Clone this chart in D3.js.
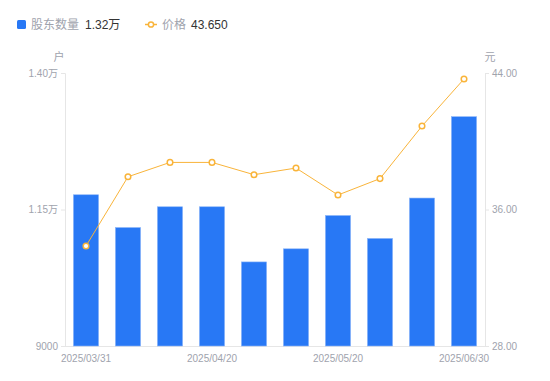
<!DOCTYPE html>
<html><head><meta charset="utf-8">
<script src="https://cdn.jsdelivr.net/npm/d3@7/dist/d3.min.js"></script>
<style>body{margin:0;background:#fff;} svg text{font-family:"Liberation Sans","Noto Sans CJK SC",sans-serif;}</style>
</head><body><svg id="c" width="550" height="381"></svg>
<script>
const dates = ["2025/03/31","2025/04/10","2025/04/18","2025/04/20","2025/04/30","2025/05/09","2025/05/20","2025/05/30","2025/06/10","2025/06/30"];
const holders = [11770,11170,11550,11550,10540,10780,11390,10970,11710,13200];
const prices = [33.86,37.92,38.76,38.76,38.04,38.43,36.85,37.81,40.89,43.65];
const leftTicks = [9000,11500,14000];
const rightTicks = [28,36,44];
const xLabelIdx = [0,3,6,9];

const svg = d3.select("#c");
const L=65,R=485,T=73,B=346;
const x = d3.scaleBand().domain(dates).range([L,R]).paddingInner(0.4).paddingOuter(0.2);
const yL = d3.scaleLinear().domain([9000,14000]).range([B,T]);
const yR = d3.scaleLinear().domain([28,44]).range([B,T]);
const gray="#a0a3ad", axisC="#e6e6e6";
const fmtL = v => v>=10000 ? (v/10000).toFixed(2)+"万" : String(v);

const gl = svg.append("g").attr("transform",`translate(${L},0)`)
  .call(d3.axisLeft(yL).tickValues(leftTicks).tickFormat(fmtL).tickSize(4).tickPadding(3));
const gr = svg.append("g").attr("transform",`translate(${R},0)`)
  .call(d3.axisRight(yR).tickValues(rightTicks).tickFormat(d=>d.toFixed(2)).tickSize(4).tickPadding(3));
[gl,gr].forEach(g=>{
  g.select(".domain").attr("stroke",axisC);
  g.selectAll(".tick line").attr("stroke",axisC);
  g.selectAll("text").attr("fill",gray).style("font-size","10px");
});
svg.append("line").attr("x1",L).attr("x2",R).attr("y1",B+0.5).attr("y2",B+0.5).attr("stroke",axisC);

const gx = svg.append("g").attr("transform",`translate(0,${B})`)
  .call(d3.axisBottom(x).tickValues(xLabelIdx.map(i=>dates[i])).tickSize(0).tickPadding(9));
gx.select(".domain").remove();
gx.selectAll("text").attr("fill",gray).style("font-size","10px");

svg.append("text").attr("x",59).attr("y",61).attr("text-anchor","middle").attr("fill",gray).style("font-size","11px").text("户");
svg.append("text").attr("x",490).attr("y",61).attr("text-anchor","middle").attr("fill",gray).style("font-size","11px").text("元");

svg.append("g").selectAll("rect").data(holders).join("rect")
  .attr("x",(d,i)=>x(dates[i])).attr("width",x.bandwidth())
  .attr("y",d=>yL(d)).attr("height",d=>B-yL(d))
  .attr("fill","#2878f5").attr("stroke","#8db6f8").attr("stroke-width",0.6);

const cx = i => x(dates[i])+x.bandwidth()/2;
const orange="#f9b43a";
svg.append("path").datum(prices)
  .attr("d",d3.line().x((d,i)=>cx(i)).y(d=>yR(d)))
  .attr("fill","none").attr("stroke",orange).attr("stroke-width",1);
svg.append("g").selectAll("circle").data(prices).join("circle")
  .attr("cx",(d,i)=>cx(i)).attr("cy",d=>yR(d)).attr("r",2.8)
  .attr("fill","#fff").attr("stroke",orange).attr("stroke-width",1.5);

const lg = svg.append("g").style("font-size","12px");
lg.append("rect").attr("x",17).attr("y",20).attr("width",9).attr("height",9).attr("rx",1.5).attr("fill","#2878f5");
lg.append("text").attr("x",31).attr("y",29).attr("fill",gray).text("股东数量");
lg.append("text").attr("x",85).attr("y",29).attr("fill","#333").text(fmtL(holders[holders.length-1]));
lg.append("line").attr("x1",145).attr("x2",157).attr("y1",24.5).attr("y2",24.5).attr("stroke",orange).attr("stroke-width",1.5);
lg.append("circle").attr("cx",151).attr("cy",24.5).attr("r",2.6).attr("fill","#fff").attr("stroke",orange).attr("stroke-width",1.5);
lg.append("text").attr("x",162).attr("y",29).attr("fill",gray).text("价格");
lg.append("text").attr("x",191).attr("y",29).attr("fill","#333").text(prices[prices.length-1].toFixed(3));
</script></body></html>
